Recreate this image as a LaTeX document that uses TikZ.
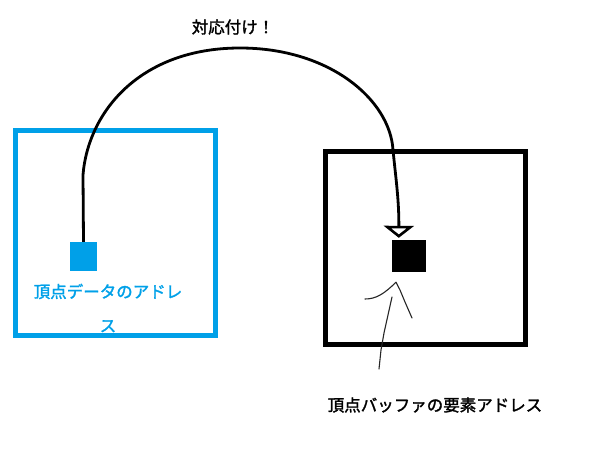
\documentclass[tikz,border=0pt]{standalone}
\usepackage{fontspec}
\setmainfont{Noto Sans CJK JP}
\newfontfamily\jpmed[FakeBold=1.6]{Noto Sans CJK JP}
\usetikzlibrary{arrows.meta,calc}
\definecolor{skyblue}{RGB}{0,160,232}
\begin{document}
\begin{tikzpicture}[x=1pt,y=-1pt,
  bigbox/.style={draw,line width=5pt,minimum width=200pt,minimum height=#1,inner sep=0pt},
  smallsq/.style={fill,inner sep=0pt},
  label/.style={font=\jpmed\fontsize{16.5}{34}\selectfont,inner sep=0pt},
  link/.style={line width=2.8pt,-{Triangle[open,width=30pt,length=12pt,line width=2.6pt]}},
  hand/.style={line width=1.1pt,draw=black!85,line cap=round,line join=round}]
\useasboundingbox (0,0) rectangle (594,455);
% boxes
\node[bigbox=205pt,draw=skyblue] (bbox) at (115.5,232.75) {};
\node[bigbox=193pt,draw=black] (kbox) at (425.5,248) {};
% small squares
\node[smallsq,fill=skyblue,minimum width=27pt,minimum height=29pt] (bsq) at (83.5,256.5) {};
\node[smallsq,fill=black,minimum width=34pt,minimum height=32pt] (ksq) at (409,256) {};
% texts
\node[label] (title) at (233,27) {対応付け！};
\node[label,text=skyblue,align=center] (btext) at (108,308) {頂点データのアドレ\\ス};
\node[label] (ktext) at (435,405) {頂点バッファの要素アドレス};
% connector
\coordinate (tip) at ($(ksq.north west)+(7,-2)$);
\draw[link] (bsq.north) -- (83,175)
  .. controls (88,112) and (140,48) .. (240,48)
  .. controls (330,48) and (390,100) .. (393,150)
  .. controls (396,180) and (399,200) .. (tip);
% hand-drawn pointer
\coordinate (hp) at ($(ksq.south)+(-13,10)$);
\draw[hand] (365,299) .. controls (376,299) and (384,294) .. (hp) -- (400,290) -- (405,302) -- (412,318);
\draw[hand] (392,297) -- (388,315) -- (384,333) -- (381,350) -- (379,369);
\end{tikzpicture}
\end{document}
